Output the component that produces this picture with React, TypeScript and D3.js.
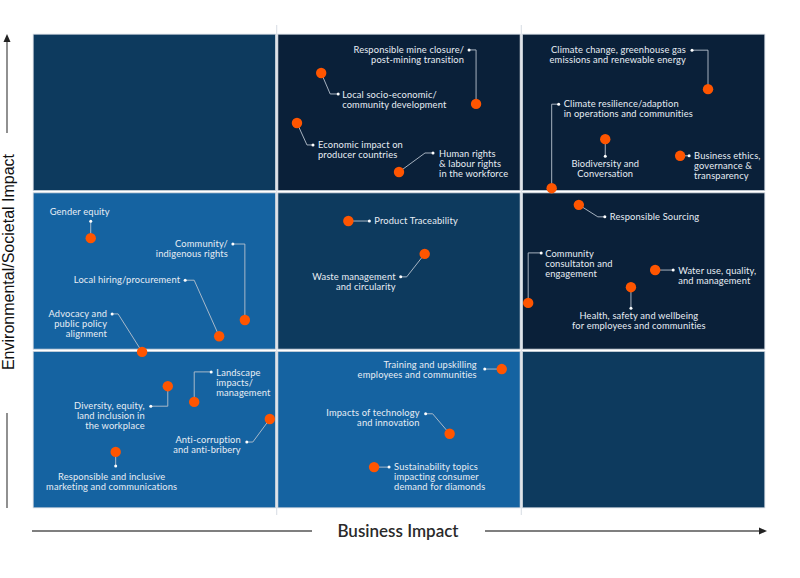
import * as d3 from "d3";

const width = 800;
const height = 578;

// topic names, one entry per line of the label
const topics: string[][] = [
  ["Responsible mine closure/", "post-mining transition"],
  ["Local socio-economic/", "community development"],
  ["Economic impact on", "producer countries"],
  ["Human rights", "& labour rights", "in the workforce"],
  ["Climate change, greenhouse gas", "emissions and renewable energy"],
  ["Climate resilience/adaption", "in operations and communities"],
  ["Biodiversity and", "Conversation"],
  ["Business ethics,", "governance &", "transparency"],
  ["Gender equity"],
  ["Community/", "indigenous rights"],
  ["Local hiring/procurement"],
  ["Advocacy and", "public policy", "alignment"],
  ["Product  Traceability"],
  ["Waste management", "and circularity"],
  ["Responsible Sourcing"],
  ["Community", "consultaton and", "engagement"],
  ["Water use, quality,", "and management"],
  ["Health, safety and wellbeing", "for employees and communities"],
  ["Landscape", "impacts/", "management"],
  ["Diversity, equity,", "land inclusion in", "the workplace"],
  ["Anti-corruption", "and anti-bribery"],
  ["Responsible and inclusive", "marketing and communications"],
  ["Training and upskilling", "employees and communities"],
  ["Impacts of technology", "and innovation"],
  ["Sustainability topics", "impacting consumer", "demand for diamonds"],
];

// business impact (x) and environmental/societal impact (y), 0-100
const businessImpact = [
  60.5, 39.4, 36.1, 50.0, 92.1, 70.8, 78.1, 88.3, 8.0, 29.0, 25.5, 15.0, 43.1,
  53.5, 74.5, 67.6, 84.9, 81.6, 22.1, 18.5, 32.4, 11.4, 64.0, 56.9, 46.6,
];
const societalImpact = [
  85.1, 91.6, 81.1, 70.8, 88.2, 67.4, 77.7, 74.2, 56.9, 39.7, 36.3, 33.0, 60.5,
  53.6, 63.9, 43.3, 50.2, 46.6, 22.5, 25.8, 18.9, 12.0, 29.4, 15.8, 8.8,
];

// tier of each matrix cell, top row first
const cellTiers = [
  ["mid", "dark", "dark"],
  ["bright", "mid", "dark"],
  ["bright", "bright", "mid"],
];
const tierColors: Record<string, string> = {
  dark: "#0a2039",
  mid: "#0d3a5e",
  bright: "#1563a1",
};

// callout layout (pixel offsets from the dot): elbow path, label anchor
type Callout = { path: number[][]; label: number[]; anchor: string };
const callouts: Callout[] = [
  { path: [[0, -54], [-7, -54]], label: [-12, -54], anchor: "end" },
  { path: [[9, 21], [17, 21]], label: [21, 22], anchor: "start" },
  { path: [[10, 22], [16, 22]], label: [21, 22], anchor: "start" },
  { path: [[26, -19], [34, -19]], label: [40, -18], anchor: "start" },
  { path: [[0, -39], [-16, -39]], label: [-22, -39], anchor: "end" },
  { path: [[0, -84], [7, -84]], label: [12, -84], anchor: "start" },
  { path: [[0, 17]], label: [0, 25], anchor: "middle" },
  { path: [[9, 0]], label: [14, 0], anchor: "start" },
  { path: [[0, -17]], label: [-11, -26], anchor: "middle" },
  { path: [[0, -76], [-12, -76]], label: [-17, -76], anchor: "end" },
  { path: [[-25, -56], [-34, -56]], label: [-39, -56], anchor: "end" },
  { path: [[-24, -38], [-30, -38]], label: [-35, -38], anchor: "end" },
  { path: [[21, 0]], label: [26, 0], anchor: "start" },
  { path: [[-18, 23], [-24, 23]], label: [-29, 23], anchor: "end" },
  { path: [[19, 12], [26, 12]], label: [31, 12], anchor: "start" },
  { path: [[0, -50], [13, -50]], label: [17, -49], anchor: "start" },
  { path: [[18, 0]], label: [23, 1], anchor: "start" },
  { path: [[0, 21]], label: [8, 29], anchor: "middle" },
  { path: [[0, -30], [17, -30]], label: [22, -29], anchor: "start" },
  { path: [[0, 20], [-17, 20]], label: [-23, 20], anchor: "end" },
  { path: [[-17, 23], [-23, 23]], label: [-29, 21], anchor: "end" },
  { path: [[0, 14]], label: [-4, 25], anchor: "middle" },
  { path: [[-17, 0]], label: [-25, -4], anchor: "end" },
  { path: [[-17, -20], [-24, -20]], label: [-30, -21], anchor: "end" },
  { path: [[15, 0]], label: [20, 0], anchor: "start" },
];

const plot = { left: 32, right: 766, top: 33, bottom: 509 };

const App = () => {
  const x = d3.scaleLinear().domain([0, 100]).range([plot.left, plot.right]);
  const y = d3.scaleLinear().domain([0, 100]).range([plot.bottom, plot.top]);
  const bands = [0, 100 / 3, 200 / 3, 100];
  const line = d3.line();

  const points = topics.map((lines, i) => ({
    lines,
    cx: x(businessImpact[i]),
    cy: y(societalImpact[i]),
    ...callouts[i],
  }));

  const labelFont = "Lato, 'Open Sans', sans-serif";

  return (
    <svg
      width={width}
      height={height}
      style={{ position: "absolute", left: 0, top: 0, display: "block" }}
    >
      <rect width={width} height={height} fill="#fff" />

      {/* matrix cells */}
      {cellTiers.map((row, r) =>
        row.map((tier, c) => {
          const x0 = x(bands[c]);
          const x1 = x(bands[c + 1]);
          const y0 = y(bands[3 - r]);
          const y1 = y(bands[2 - r]);
          return (
            <rect
              key={`${r}-${c}`}
              x={x0 + 1.2}
              y={y0 + 1.2}
              width={x1 - x0 - 2.4}
              height={y1 - y0 - 2.4}
              fill={tierColors[tier]}
              stroke="#c9d1da"
              strokeWidth={0.8}
            />
          );
        })
      )}

      {/* column dividers reaching past the grid */}
      {[bands[1], bands[2]].map((b) => (
        <line
          key={b}
          x1={x(b)}
          x2={x(b)}
          y1={plot.top - 8}
          y2={plot.bottom + 6}
          stroke="#dde2e8"
          strokeWidth={1.2}
        />
      ))}

      {/* callouts */}
      {points.map((p, i) => {
        const pts: [number, number][] = [
          [p.cx, p.cy],
          ...p.path.map(([dx, dy]) => [p.cx + dx, p.cy + dy] as [number, number]),
        ];
        const end = pts[pts.length - 1];
        return (
          <g key={i}>
            <path d={line(pts) ?? undefined} fill="none" stroke="#b8c2ce" strokeWidth={0.9} />
            <circle cx={end[0]} cy={end[1]} r={1.5} fill="#fff" />
            <circle cx={p.cx} cy={p.cy} r={5.2} fill="#ff5500" />
            <text
              x={p.cx + p.label[0]}
              y={p.cy + p.label[1]}
              textAnchor={p.anchor as any}
              fontFamily={labelFont}
              fontSize={9.3}
              letterSpacing={0.15}
              fill="#e8eef5"
            >
              {p.lines.map((t, j) => (
                <tspan key={j} x={p.cx + p.label[0]} dy={j === 0 ? "0.35em" : 10}>
                  {t}
                </tspan>
              ))}
            </text>
          </g>
        );
      })}

      {/* y axis */}
      <line x1={7} x2={7} y1={133} y2={40} stroke="#555" strokeWidth={1.3} />
      <path d="M3.5,42 L7,34 L10.5,42 Z" fill="#222" />
      <line x1={7} x2={7} y1={413} y2={508} stroke="#555" strokeWidth={1.3} />
      <text
        transform="translate(14,262) rotate(-90)"
        textAnchor="middle"
        fontFamily="'Liberation Sans', Arial, sans-serif"
        fontSize={16}
        fill="#111"
      >
        Environmental/Societal Impact
      </text>

      {/* x axis */}
      <line x1={32} x2={312} y1={531} y2={531} stroke="#555" strokeWidth={1.3} />
      <line x1={485} x2={760} y1={531} y2={531} stroke="#555" strokeWidth={1.3} />
      <path d="M759,527.5 L767,531 L759,534.5 Z" fill="#222" />
      <text
        x={398}
        y={531}
        dy="0.35em"
        textAnchor="middle"
        fontFamily={labelFont}
        fontSize={17}
        fontWeight={600}
        fill="#2a2a2a"
      >
        Business Impact
      </text>
    </svg>
  );
};

export default App;
